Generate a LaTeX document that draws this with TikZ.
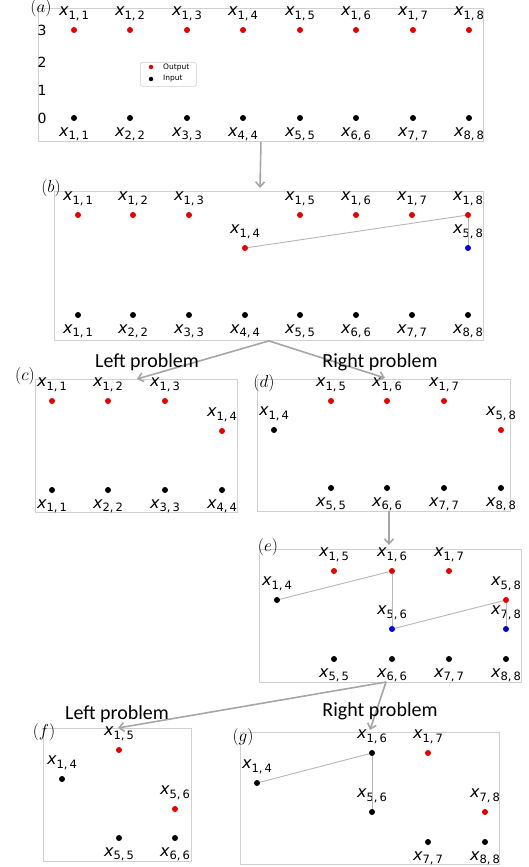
\documentclass[tikz,border=0pt]{standalone}
\usepackage{fontspec}
\newfontfamily\dejavu{DejaVu Sans}
\newfontfamily\carlito{Carlito}
\usetikzlibrary{arrows.meta}

\definecolor{boxgray}{RGB}{208,208,208}
\definecolor{arrowgray}{RGB}{166,166,166}
\definecolor{linkgray}{RGB}{182,182,182}
\definecolor{outred}{RGB}{228,0,0}
\definecolor{midblue}{RGB}{0,0,215}

\newcommand{\xv}[2]{{\fontsize{16}{16}\selectfont\dejavu\itshape x}%
  {\fontsize{11.5}{11.5}\selectfont\dejavu\raisebox{-3.5pt}{#1,\,#2}}}

\tikzset{
  panel/.style={draw=boxgray,line width=0.9pt,anchor=north west,inner sep=0pt},
  dotpt/.style={circle,inner sep=0pt,minimum size=6pt},
  outpt/.style={dotpt,fill=outred},
  inpt/.style={dotpt,fill=black},
  midpt/.style={dotpt,fill=midblue},
  lab/.style={inner sep=0pt},
  xup/.style={label={[lab,yshift=6pt]above:#1}},
  xdown/.style={label={[lab,yshift=-6pt]below:#1}},
  tag/.style={font=\fontsize{18}{18}\selectfont},
  tick/.style={font=\fontsize{14}{14}\selectfont\dejavu},
  split/.style={font=\fontsize{20}{20}\selectfont\carlito,inner sep=0pt},
  flow/.style={draw=arrowgray,line width=1.6pt,-{Straight Barb[length=5pt,width=9pt]}},
  link/.style={draw=linkgray,line width=0.9pt}
}

\begin{document}
\begin{tikzpicture}[x=1pt,y=-1pt]
  \useasboundingbox (0,0) rectangle (529,867);

  % (a) the full problem
  \node[panel,minimum width=445,minimum height=133] (pa) at (38,8) {};
  \node[tag] (ta) at (41,8) {$(a)$};
  \node[tick] (t3) at (42,30) {3};
  \node[tick] (t2) at (42,62) {2};
  \node[tick] (t1) at (42,90) {1};
  \node[tick] (t0) at (42,118) {0};
  \node[draw=boxgray,rounded corners=1.5pt,line width=0.6pt,anchor=north west,minimum width=56,minimum height=24] (leg) at (140,62) {};
  \node[circle,inner sep=0pt,minimum size=4.5pt,fill=outred] (legout) at (151,67) {};
  \node[circle,inner sep=0pt,minimum size=4.5pt,fill=black] (legin) at (151,79) {};
  \node[anchor=west,inner sep=0pt,font=\fontsize{7.5}{7.5}\selectfont\dejavu] (legouttxt) at (163,67) {Output};
  \node[anchor=west,inner sep=0pt,font=\fontsize{7.5}{7.5}\selectfont\dejavu] (legintxt) at (163,79) {Input};
  \node[outpt,xup={\xv{1}{1}}] (a11) at (74,30) {};
  \node[outpt,xup={\xv{1}{2}}] (a12) at (130,30) {};
  \node[outpt,xup={\xv{1}{3}}] (a13) at (187,30) {};
  \node[outpt,xup={\xv{1}{4}}] (a14) at (243,30) {};
  \node[outpt,xup={\xv{1}{5}}] (a15) at (300,30) {};
  \node[outpt,xup={\xv{1}{6}}] (a16) at (356,30) {};
  \node[outpt,xup={\xv{1}{7}}] (a17) at (413,30) {};
  \node[outpt,xup={\xv{1}{8}}] (a18) at (469,30) {};
  \node[inpt,xdown={\xv{1}{1}}] (ad1) at (74,118) {};
  \node[inpt,xdown={\xv{2}{2}}] (ad2) at (130,118) {};
  \node[inpt,xdown={\xv{3}{3}}] (ad3) at (187,118) {};
  \node[inpt,xdown={\xv{4}{4}}] (ad4) at (243,118) {};
  \node[inpt,xdown={\xv{5}{5}}] (ad5) at (300,118) {};
  \node[inpt,xdown={\xv{6}{6}}] (ad6) at (356,118) {};
  \node[inpt,xdown={\xv{7}{7}}] (ad7) at (413,118) {};
  \node[inpt,xdown={\xv{8}{8}}] (ad8) at (469,118) {};

  % (b) split at x_{1,4}
  \node[panel,minimum width=429,minimum height=149] (pb) at (54,191) {};
  \node[tag] (tb) at (51,188) {$(b)$};
  \node[outpt,xup={\xv{1}{1}}] (b11) at (78,215) {};
  \node[outpt,xup={\xv{1}{2}}] (b12) at (133,215) {};
  \node[outpt,xup={\xv{1}{3}}] (b13) at (189,215) {};
  \node[outpt,xup={\xv{1}{4}}] (b14) at (245,248) {};
  \node[outpt,xup={\xv{1}{5}}] (b15) at (300,215) {};
  \node[outpt,xup={\xv{1}{6}}] (b16) at (356,215) {};
  \node[outpt,xup={\xv{1}{7}}] (b17) at (412,215) {};
  \node[outpt,xup={\xv{1}{8}}] (b18) at (468,215) {};
  \node[midpt,xup={\xv{5}{8}}] (b58) at (468,248) {};
  \node[inpt,xdown={\xv{1}{1}}] (bd1) at (78,315) {};
  \node[inpt,xdown={\xv{2}{2}}] (bd2) at (133,315) {};
  \node[inpt,xdown={\xv{3}{3}}] (bd3) at (189,315) {};
  \node[inpt,xdown={\xv{4}{4}}] (bd4) at (245,315) {};
  \node[inpt,xdown={\xv{5}{5}}] (bd5) at (300,315) {};
  \node[inpt,xdown={\xv{6}{6}}] (bd6) at (356,315) {};
  \node[inpt,xdown={\xv{7}{7}}] (bd7) at (412,315) {};
  \node[inpt,xdown={\xv{8}{8}}] (bd8) at (468,315) {};
  \draw[link] (b14) -- (b18);
  \draw[link] (b18) -- (b58);

  % (c) left problem
  \node[panel,minimum width=202,minimum height=133] (pc) at (35,379) {};
  \node[tag] (tc) at (25,376) {$(c)$};
  \node[outpt,xup={\xv{1}{1}}] (c11) at (52,401) {};
  \node[outpt,xup={\xv{1}{2}}] (c12) at (108,401) {};
  \node[outpt,xup={\xv{1}{3}}] (c13) at (165,401) {};
  \node[outpt,xup={\xv{1}{4}}] (c14) at (222,431) {};
  \node[inpt,xdown={\xv{1}{1}}] (cd1) at (52,490) {};
  \node[inpt,xdown={\xv{2}{2}}] (cd2) at (108,490) {};
  \node[inpt,xdown={\xv{3}{3}}] (cd3) at (165,490) {};
  \node[inpt,xdown={\xv{4}{4}}] (cd4) at (222,490) {};

  % (d) right problem
  \node[panel,minimum width=253,minimum height=132] (pd) at (257,379) {};
  \node[tag] (td) at (264,383) {$(d)$};
  \node[inpt,xup={\xv{1}{4}}] (d14) at (274,430) {};
  \node[outpt,xup={\xv{1}{5}}] (d15) at (331,401) {};
  \node[outpt,xup={\xv{1}{6}}] (d16) at (387,401) {};
  \node[outpt,xup={\xv{1}{7}}] (d17) at (444,401) {};
  \node[outpt,xup={\xv{5}{8}}] (d58) at (501,430) {};
  \node[inpt,xdown={\xv{5}{5}}] (dd5) at (331,488) {};
  \node[inpt,xdown={\xv{6}{6}}] (dd6) at (387,488) {};
  \node[inpt,xdown={\xv{7}{7}}] (dd7) at (444,488) {};
  \node[inpt,xdown={\xv{8}{8}}] (dd8) at (501,488) {};

  % (e) split at x_{1,6}
  \node[panel,minimum width=262,minimum height=133] (pe) at (259,549) {};
  \node[tag] (te) at (268,547) {$(e)$};
  \node[inpt,xup={\xv{1}{4}}] (e14) at (277,600) {};
  \node[outpt,xup={\xv{1}{5}}] (e15) at (334,571) {};
  \node[outpt,xup={\xv{1}{6}}] (e16) at (392,571) {};
  \node[outpt,xup={\xv{1}{7}}] (e17) at (449,571) {};
  \node[outpt,xup={\xv{5}{8}}] (e58) at (506,600) {};
  \node[midpt,xup={\xv{5}{6}}] (e56) at (392,629) {};
  \node[midpt,xup={\xv{7}{8}}] (e78) at (506,629) {};
  \node[inpt,xdown={\xv{5}{5}}] (ed5) at (334,659) {};
  \node[inpt,xdown={\xv{6}{6}}] (ed6) at (392,659) {};
  \node[inpt,xdown={\xv{7}{7}}] (ed7) at (449,659) {};
  \node[inpt,xdown={\xv{8}{8}}] (ed8) at (506,659) {};
  \draw[link] (e14) -- (e16);
  \draw[link] (e16) -- (e56);
  \draw[link] (e56) -- (e58);
  \draw[link] (e58) -- (e78);

  % (f) left problem
  \node[panel,minimum width=148,minimum height=133] (pf) at (43,728) {};
  \node[tag] (tf) at (44,732) {$(f)$};
  \node[inpt,xup={\xv{1}{4}}] (f14) at (62,779) {};
  \node[outpt,xup={\xv{1}{5}}] (f15) at (119,750) {};
  \node[outpt,xup={\xv{5}{6}}] (f56) at (175,809) {};
  \node[inpt,xdown={\xv{5}{5}}] (fd5) at (119,838) {};
  \node[inpt,xdown={\xv{6}{6}}] (fd6) at (175,838) {};

  % (g) right problem
  \node[panel,minimum width=259,minimum height=132] (pg) at (240,732) {};
  \node[tag] (tg) at (243,737) {$(g)$};
  \node[inpt,xup={\xv{1}{4}}] (g14) at (257,783) {};
  \node[inpt,xup={\xv{1}{6}}] (g16) at (372,753) {};
  \node[outpt,xup={\xv{1}{7}}] (g17) at (428,753) {};
  \node[inpt,xup={\xv{5}{6}}] (g56) at (372,812) {};
  \node[outpt,xup={\xv{7}{8}}] (g78) at (485,812) {};
  \node[inpt,xdown={\xv{7}{7}}] (gd7) at (428,842) {};
  \node[inpt,xdown={\xv{8}{8}}] (gd8) at (485,842) {};
  \draw[link] (g14) -- (g16);
  \draw[link] (g16) -- (g56);

  % arrows between the stages
  \coordinate (bin) at (260,188);
  \coordinate (cin) at (137,379);
  \coordinate (din) at (385,378);
  \coordinate (dout) at (389,511);
  \coordinate (ein) at (389,545);
  \coordinate (esplit) at (386,682);
  \coordinate (fin) at (118,728);
  \coordinate (gin) at (370,730);

  \draw[flow] (pa.south) -- (bin);
  \draw[flow] (pb.south) -- (cin);
  \draw[flow] (pb.south) -- (din);
  \draw[flow] (dout) -- (ein);
  \draw[flow] (esplit) -- (fin);
  \draw[flow] (esplit) -- (gin);

  \node[split] (cleft) at (147,362) {Left problem};
  \node[split] (dright) at (380,362) {Right problem};
  \node[split] (fleft) at (117,714) {Left problem};
  \node[split] (gright) at (380,711) {Right problem};
\end{tikzpicture}
\end{document}
